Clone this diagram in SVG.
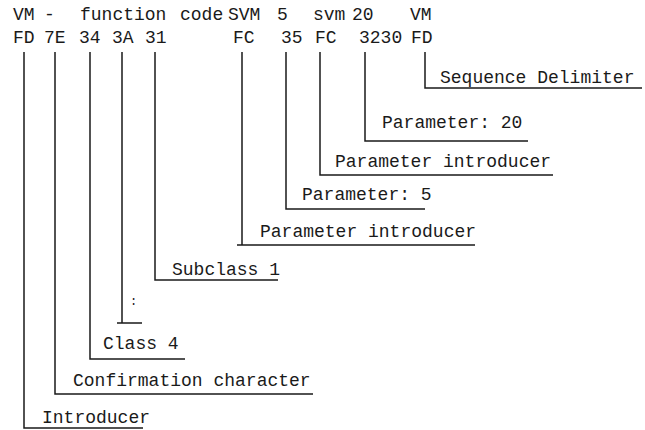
<svg xmlns="http://www.w3.org/2000/svg" width="645" height="430" viewBox="0 0 645 430">
<style>
text{font-family:"Liberation Mono","DejaVu Sans Mono",monospace;font-size:18px;fill:#1a1a1a}
.c{fill:none;stroke:#1a1a1a;stroke-width:1.5}
</style>
<rect width="645" height="430" fill="#fff"/>
<g id="header">
<text y="20"><tspan x="13">VM</tspan><tspan x="44">-</tspan><tspan x="80">function</tspan><tspan x="180">code</tspan><tspan x="228">SVM</tspan><tspan x="277">5</tspan><tspan x="313">svm</tspan><tspan x="352">20</tspan><tspan x="410">VM</tspan></text>
<text y="43"><tspan x="13">FD</tspan><tspan x="44">7E</tspan><tspan x="79">34</tspan><tspan x="112">3A</tspan><tspan x="145">31</tspan><tspan x="233">FC</tspan><tspan x="281">35</tspan><tspan x="315">FC</tspan><tspan x="359">3230</tspan><tspan x="411">FD</tspan></text>
</g>
<g id="connectors">
<path class="c" d="M425,52 V88 H642"/>
<path class="c" d="M365,52 V141 H528"/>
<path class="c" d="M320,52 V175 H553"/>
<path class="c" d="M286,52 V209 H425"/>
<path class="c" d="M242,52 V245 M237,245 H475"/>
<path class="c" d="M155,52 V280 H278"/>
<path class="c" d="M122,52 V323 M117,323 H142"/>
<path class="c" d="M90,52 V359 H185"/>
<path class="c" d="M55,52 V394 H313"/>
<path class="c" d="M24,52 V428 H143"/>
</g>
<g id="n-seqdelim"><text x="440" y="83">Sequence Delimiter</text></g>
<g id="n-param20"><text x="382" y="128">Parameter: 20</text></g>
<g id="n-paramintro2"><text x="335" y="167">Parameter introducer</text></g>
<g id="n-param5"><text x="302" y="200">Parameter: 5</text></g>
<g id="n-paramintro1"><text x="260" y="237">Parameter introducer</text></g>
<g id="n-subclass"><text x="172" y="275">Subclass 1</text></g>
<g id="n-colon"><text x="130" y="305" style="font-size:12px">:</text></g>
<g id="n-class"><text x="103" y="349">Class 4</text></g>
<g id="n-confirm"><text x="73" y="386">Confirmation character</text></g>
<g id="n-intro"><text x="42" y="423">Introducer</text></g>
</svg>
